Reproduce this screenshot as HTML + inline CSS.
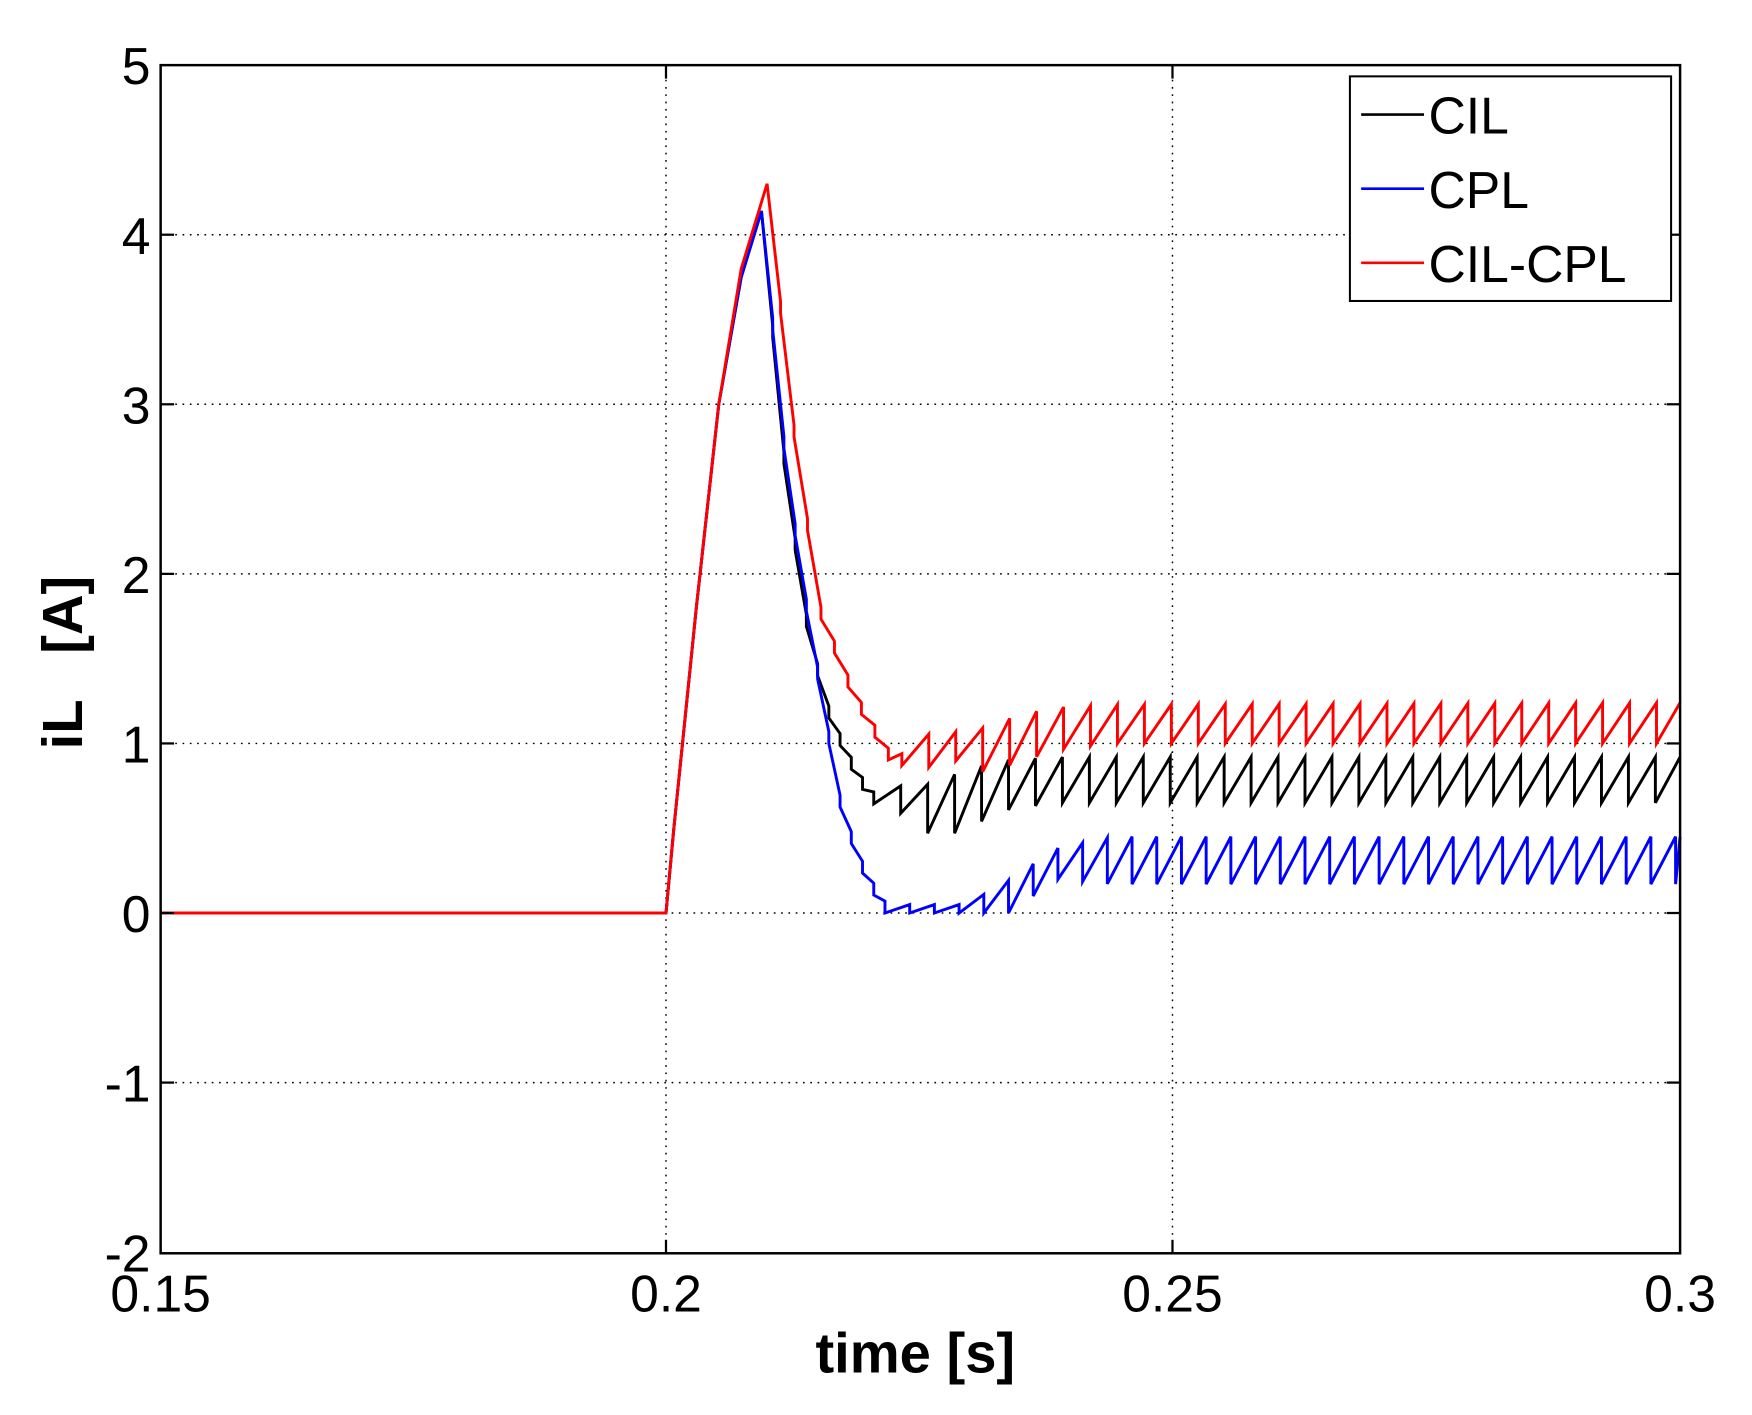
<!DOCTYPE html>
<html><head><meta charset="utf-8"><style>
html,body{margin:0;padding:0;background:#fff;}
svg{display:block;}
text{font-family:"Liberation Sans",Arial,sans-serif;fill:#000;}
</style></head><body>
<svg id="s" width="1752" height="1415" viewBox="0 0 1560 1260" xmlns="http://www.w3.org/2000/svg">
<rect x="0" y="0" width="1560" height="1260" fill="#fff"/>
<g stroke="#000" stroke-width="1.3" stroke-dasharray="1.5,5" fill="none">
<line x1="593" y1="58" x2="593" y2="1116"/>
<line x1="1044" y1="58" x2="1044" y2="1116"/>
<line x1="143" y1="209" x2="1496" y2="209"/>
<line x1="143" y1="360" x2="1496" y2="360"/>
<line x1="143" y1="511" x2="1496" y2="511"/>
<line x1="143" y1="662" x2="1496" y2="662"/>
<line x1="143" y1="813" x2="1496" y2="813"/>
<line x1="143" y1="964" x2="1496" y2="964"/>
</g>
<g id="curves" fill="none" stroke-width="2.6" stroke-linejoin="miter"></g>
<rect x="143" y="58" width="1353" height="1058" fill="none" stroke="#000" stroke-width="2.2"/>
<g stroke="#000" stroke-width="2">
<line x1="593" y1="58" x2="593" y2="70"/><line x1="593" y1="1116" x2="593" y2="1104"/>
<line x1="1044" y1="58" x2="1044" y2="70"/><line x1="1044" y1="1116" x2="1044" y2="1104"/>
<line x1="143" y1="209" x2="155" y2="209"/><line x1="1496" y1="209" x2="1484" y2="209"/>
<line x1="143" y1="360" x2="155" y2="360"/><line x1="1496" y1="360" x2="1484" y2="360"/>
<line x1="143" y1="511" x2="155" y2="511"/><line x1="1496" y1="511" x2="1484" y2="511"/>
<line x1="143" y1="662" x2="155" y2="662"/><line x1="1496" y1="662" x2="1484" y2="662"/>
<line x1="143" y1="813" x2="155" y2="813"/><line x1="1496" y1="813" x2="1484" y2="813"/>
<line x1="143" y1="964" x2="155" y2="964"/><line x1="1496" y1="964" x2="1484" y2="964"/>
</g>
<g font-size="46" text-anchor="end">
<text x="134" y="75">5</text>
<text x="134" y="226">4</text>
<text x="134" y="377">3</text>
<text x="134" y="528">2</text>
<text x="134" y="679">1</text>
<text x="134" y="830">0</text>
<text x="134" y="981">-1</text>
<text x="134" y="1132">-2</text>
</g>
<g font-size="46" text-anchor="middle">
<text x="143" y="1168">0.15</text>
<text x="593" y="1168">0.2</text>
<text x="1044" y="1168">0.25</text>
<text x="1496" y="1168">0.3</text>
</g>
<text x="815" y="1222" font-size="50" font-weight="bold" text-anchor="middle">time [s]</text>
<text transform="translate(73,590) rotate(-90)" font-size="50" font-weight="bold" text-anchor="middle" xml:space="preserve">iL   [A]</text>
<rect x="1202" y="68" width="286" height="200" fill="#fff" stroke="#000" stroke-width="1.8"/>
<line x1="1212" y1="102" x2="1268" y2="102" stroke="#000" stroke-width="2.4"/>
<line x1="1212" y1="168" x2="1268" y2="168" stroke="#0000ff" stroke-width="2.4"/>
<line x1="1212" y1="234" x2="1268" y2="234" stroke="#ff0000" stroke-width="2.4"/>
<g font-size="46">
<text x="1272" y="119">CIL</text>
<text x="1272" y="185">CPL</text>
<text x="1272" y="251">CIL-CPL</text>
</g>
</svg>
<script>
(function(){
function interp(k,x){if(x<=k[0][0])return k[0][1];for(var i=1;i<k.length;i++){if(x<=k[i][0]){var a=k[i-1],b=k[i];return a[1]+(b[1]-a[1])*(x-a[0])/(b[0]-a[0]);}}return k[k.length-1][1];}
function Y(v){return 813-151*v;}
function build(rise,peakX,lo,hi,p1,p2,dx){
 var pts=[[143,0],[593,0]];
 for(var x=596;x<=peakX;x+=4)pts.push([x,interp(rise,x)]);
 pts.push([peakX,interp(rise,peakX)]);
 var x=peakX;
 while(x<1496){var per=x<dx?p1:p2;var b=Math.min(1496,x+per);
  if(x<dx){
   pts.push([x,interp(lo,x)]);
   pts.push([b,interp(lo,b)+0.07]);
  } else {
   pts.push([x,interp(lo,x)]);
   var h=Math.max(interp(hi,b),interp(lo,x));
   pts.push([b,h]);
  }
  x=b;}
 var d='';for(var i=0;i<pts.length;i++){d+=(i?'L':'M')+pts[i][0].toFixed(1)+' '+Y(pts[i][1]).toFixed(1);}
 return d;}
var riseR=[[593,0],[600,0.5],[620,1.8],[640,3.0],[660,3.8],[683,4.3]];
var riseB=[[593,0],[600,0.5],[620,1.8],[640,3.0],[660,3.75],[678,4.14]];
var rLo=[[683,4.3],[705,2.9],[730,1.75],[760,1.25],[793,0.88],[822,0.85],[850,0.9],[873,0.83],[905,0.88],[940,0.96],[990,1.0],[1496,1.0]];
var rHi=[[683,4.3],[700,3.0],[730,1.85],[760,1.35],[793,0.98],[818,1.05],[870,1.08],[900,1.15],[935,1.21],[990,1.23],[1496,1.24]];
var kLo=[[678,4.14],[700,2.5],[720,1.6],[740,1.1],[760,0.82],[775,0.65],[800,0.6],[822,0.47],[855,0.47],[890,0.6],[940,0.65],[1496,0.65]];
var kHi=[[678,4.14],[700,2.5],[720,1.7],[740,1.15],[760,0.9],[775,0.75],[800,0.75],[822,0.75],[855,0.83],[890,0.9],[940,0.92],[1496,0.92]];
var bLo=[[678,4.14],[700,2.6],[715,1.9],[730,1.3],[750,0.55],[770,0.2],[787,0],[900,0],[940,0.2],[990,0.17],[1496,0.17]];
var bHi=[[678,4.14],[700,2.6],[715,1.9],[730,1.3],[750,0.65],[770,0.3],[787,0.05],[860,0.05],[900,0.2],[940,0.38],[990,0.45],[1496,0.45]];
var g=document.getElementById('curves');var ns='http://www.w3.org/2000/svg';
function add(d,c){var p=document.createElementNS(ns,'path');p.setAttribute('d',d);p.setAttribute('stroke',c);g.appendChild(p);}
add(build(riseB,678,kLo,kHi,10,24,775),'#000000');
add(build(riseB,678,bLo,bHi,10,22,785),'#0000ff');
add(build(riseR,683,rLo,rHi,12,24,793),'#ff0000');
})();
</script>
</body></html>
